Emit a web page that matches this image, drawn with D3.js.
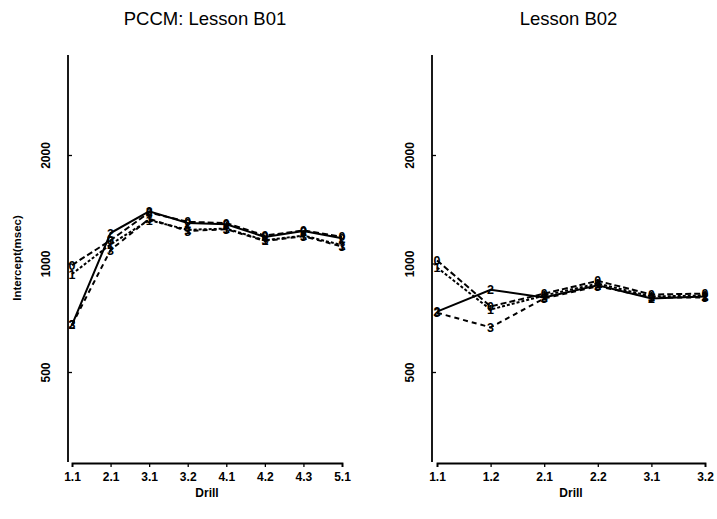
<!DOCTYPE html>
<html><head><meta charset="utf-8">
<script src="https://cdn.jsdelivr.net/npm/d3@7"></script>
<style>body{margin:0;background:#fff}svg{display:block}text{font-family:"Liberation Sans",Arial,sans-serif}</style>
</head><body><svg id="c" width="717" height="519"></svg>
<script>
const seriesNames = ["0","1","2","3"];
const drillsB01 = ["1.1","2.1","3.1","3.2","4.1","4.2","4.3","5.1"];
const b01_s0 = [990, 1160, 1385, 1305, 1295, 1195, 1235, 1185];
const b01_s1 = [935, 1130, 1320, 1240, 1250, 1160, 1195, 1125];
const b01_s2 = [676, 1215, 1395, 1295, 1285, 1185, 1230, 1175];
const b01_s3 = [676, 1090, 1330, 1230, 1245, 1155, 1190, 1115];
const drillsB02 = ["1.1","1.2","2.1","2.2","3.1","3.2"];
const b02_s0 = [1020, 760, 825, 895, 820, 825];
const b02_s1 = [975, 745, 815, 880, 810, 815];
const b02_s2 = [735, 845, 805, 870, 800, 810];
const b02_s3 = [730, 665, 800, 865, 805, 805];
const yTicks = [500, 1000, 2000];
const titles = ["PCCM: Lesson B01", "Lesson B02"];
const dashes = ["6,3", "3,2", null, "5,4"];

const svg = d3.select("#c");
const y = d3.scaleLog().domain([500, 2000]).range([372, 155]);
const yTop = 55, yBot = 462;

function panel(opts) {
  const {x0, x1, axisX, drills, series, title, ylab} = opts;
  const x = d3.scalePoint().domain(drills).range([x0, x1]);
  const g = svg.append("g");
  g.append("text").attr("x", (axisX + x1) / 2).attr("y", 25).attr("text-anchor", "middle")
    .attr("font-size", 18.5).text(title);
  g.append("line").attr("x1", axisX).attr("x2", axisX).attr("y1", yTop).attr("y2", yBot)
    .attr("stroke", "#000").attr("stroke-width", 1.8);
  const ya = g.append("g").attr("transform", `translate(${axisX},0)`)
    .call(d3.axisLeft(y).tickValues(yTicks).tickFormat(d3.format("d")).tickSizeInner(-4).tickSizeOuter(0));
  ya.select(".domain").remove();
  ya.selectAll(".tick line").attr("stroke", "#000").attr("stroke-width", 1.3);
  ya.selectAll(".tick text").attr("x", 0).attr("text-anchor", "middle")
    .attr("transform", "translate(-22,0) rotate(-90)").attr("dy", "0.35em")
    .attr("font-size", 12).attr("font-weight", "bold").attr("fill", "#000");
  const xa = g.append("g").attr("transform", `translate(0,${yBot + 1})`)
    .call(d3.axisBottom(x).tickSizeInner(4).tickSizeOuter(4).tickPadding(5));
  xa.select(".domain").attr("stroke", "#000").attr("stroke-width", 1.8);
  xa.selectAll(".tick line").attr("stroke", "#000").attr("stroke-width", 1.3);
  xa.selectAll(".tick text").attr("font-size", 12).attr("font-weight", "bold").attr("fill", "#000");
  g.append("text").attr("x", (x0 + x1) / 2).attr("y", 497).attr("text-anchor", "middle")
    .attr("font-size", 12).attr("font-weight", "bold").text("Drill");
  if (ylab) {
    g.append("text").attr("transform", `translate(21,258) rotate(-90)`).attr("text-anchor", "middle")
      .attr("font-size", 11.5).attr("font-weight", "bold").text(ylab);
  }
  const line = d3.line().x((d, i) => x(drills[i])).y(d => y(d));
  series.forEach((vals, si) => {
    g.append("path").datum(vals).attr("d", line).attr("fill", "none")
      .attr("stroke", "#000").attr("stroke-width", 2)
      .attr("stroke-dasharray", dashes[si]);
  });
  series.forEach((vals, si) => {
    g.selectAll(null).data(vals).enter().append("text")
      .attr("x", (d, i) => x(drills[i])).attr("y", d => y(d)).attr("dy", "0.36em")
      .attr("text-anchor", "middle").attr("font-size", 12.5).attr("font-weight", "bold")
      .text(seriesNames[si]);
  });
}

panel({x0: 72, x1: 342, axisX: 68, drills: drillsB01,
  series: [b01_s0, b01_s1, b01_s2, b01_s3], title: titles[0], ylab: "Intercept(msec)"});
panel({x0: 437, x1: 705, axisX: 432, drills: drillsB02,
  series: [b02_s0, b02_s1, b02_s2, b02_s3], title: titles[1], ylab: null});
</script></body></html>
